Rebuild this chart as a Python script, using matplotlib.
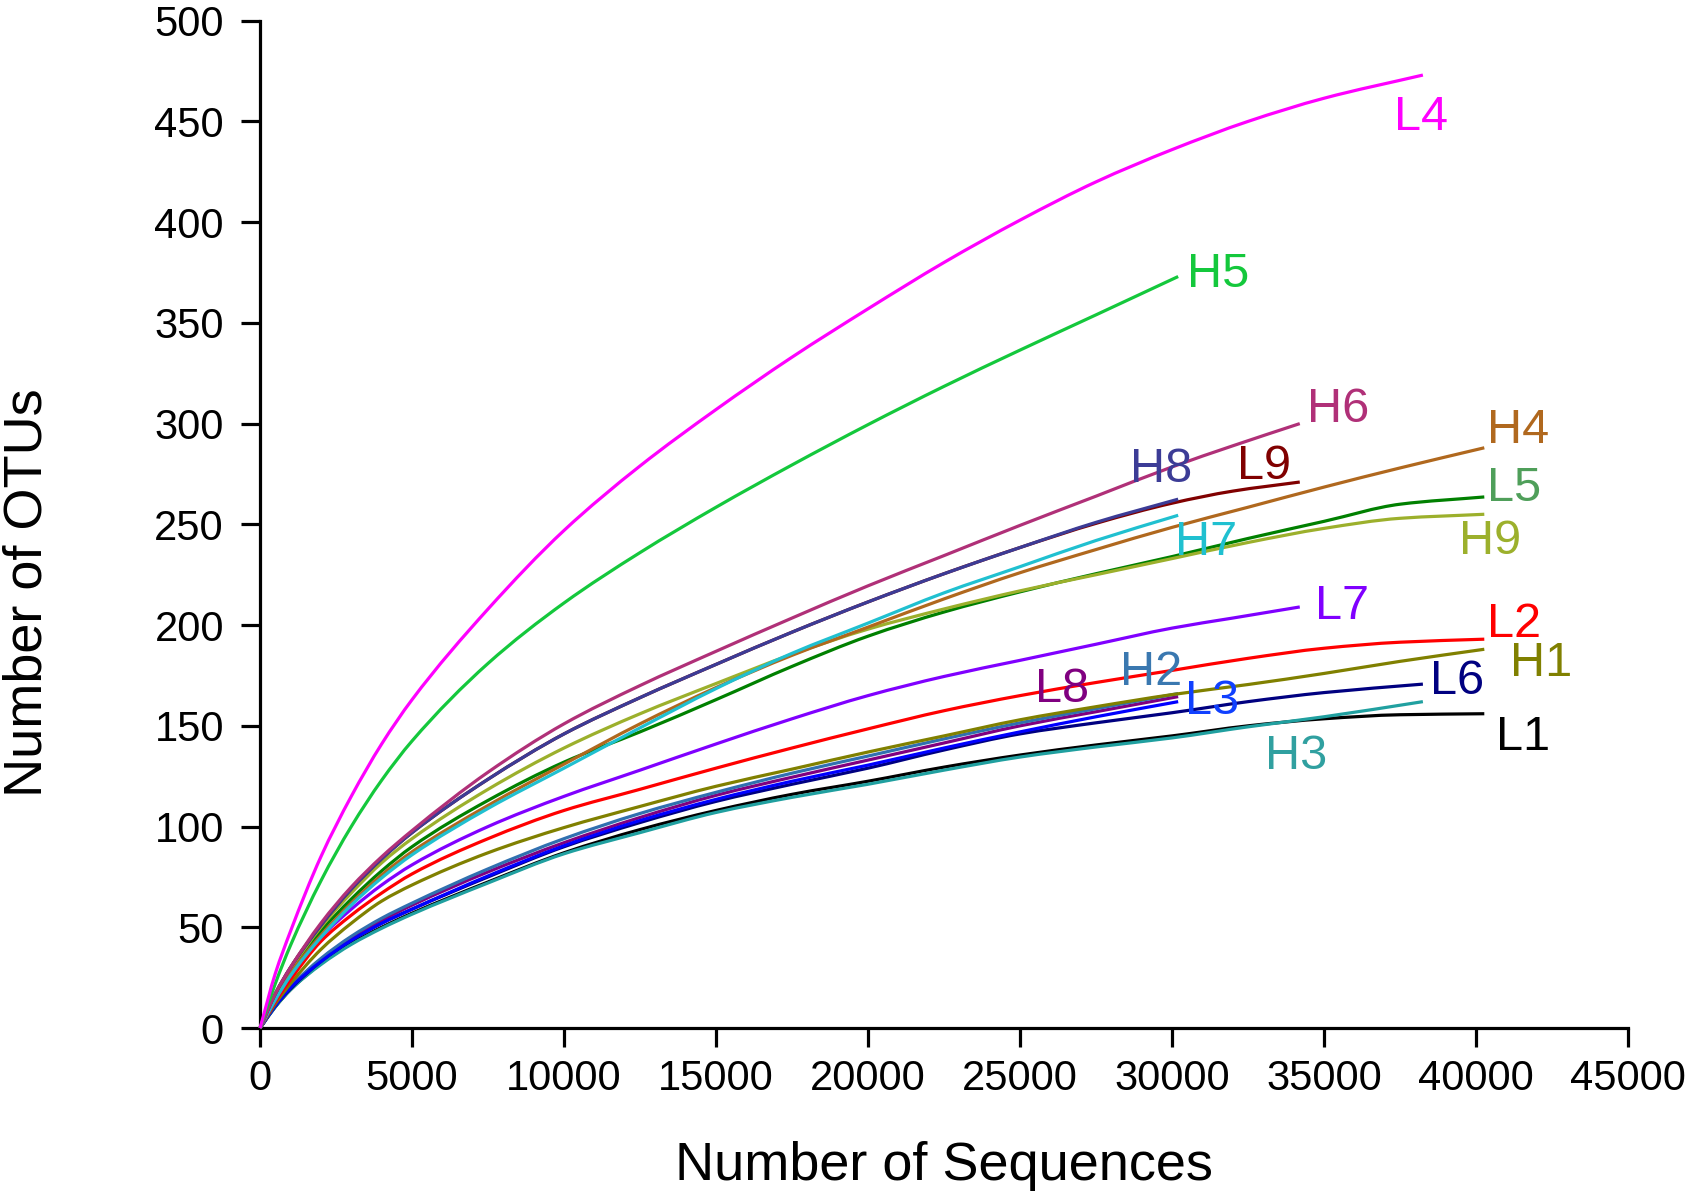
"""
Rarefaction curves: Number of OTUs vs Number of Sequences for L1-L9, H1-H9.
Output: out.png
"""

import matplotlib
matplotlib.use("Agg")
import matplotlib.pyplot as plt
import numpy as np
from matplotlib.patches import PathPatch
from matplotlib.path import Path

plt.rcParams["font.family"] = ["Liberation Sans", "DejaVu Sans"]

# x positions shared by every curve up to 27500 sequences
GRID_X = [0, 500, 1000, 2000, 3000, 4000, 5000, 7500, 10000,
          12500, 15000, 17500, 20000, 22500, 25000, 27500]

# tail x positions, one per curve end group
TAIL_30 = [30200]
TAIL_34 = [30000, 32000, 34200]
TAIL_38 = [30000, 32500, 35000, 38250]
TAIL_40 = [30000, 32500, 35000, 37500, 40270]

# OTU counts (GRID_X values followed by tail values)
L4 = [0, 27, 48, 85, 115, 141, 163, 208, 247, 279, 307, 333, 357, 380, 401, 420,
      436, 450, 461.5, 473]
H5 = [0, 22, 41, 73, 100, 123, 142.5, 181, 211, 236, 258.5, 279.5, 299.5, 318.5,
      336.5, 354, 373]
H6 = [0, 17, 30, 52, 70, 85, 98, 127, 151, 170, 187, 203.5, 219.5, 234.5, 249.5, 264,
      278.5, 289, 300]
H8 = [0, 17, 30, 51, 69, 84, 97, 123.5, 146, 164, 180.5, 196.5, 211.5, 225.5, 238.5,
      251, 262.5]
L9 = [0, 17, 30, 51, 69, 84, 97, 123.5, 146, 164, 180.5, 196.5, 211.5, 225.5, 238.5,
      250.5, 260.5, 266.5, 271]
H4 = [0, 15, 27, 46, 62, 76, 87.5, 110.5, 131, 151, 169, 185, 199, 213, 226, 237.5,
      248.5, 258.5, 268.5, 278, 288]
H7 = [0, 14, 26, 45, 61, 74.5, 86, 109, 129, 149, 168.5, 186, 201, 216, 229, 242,
      254.5]
L5 = [0, 15.5, 28, 48, 64, 78, 90, 113, 132, 147, 163, 179.5, 194.5, 206.5, 216.5,
      225.5, 234, 243, 251.5, 260, 263.6]
H9 = [0, 16, 29, 50, 67, 82, 94, 118.5, 139, 156, 171, 185.5, 198, 208, 217, 225,
      233, 241, 248, 253, 255]
L7 = [0, 14, 26, 45, 59, 71, 81, 100, 115, 128, 141, 153.5, 165, 174.5, 182.5, 190.5,
      198.5, 203.5, 209]
L2 = [0, 13, 24, 43, 56, 67, 76.5, 94, 108, 118.5, 129, 139, 148.5, 157.5, 165, 171.5,
      177.5, 183.5, 188.5, 191.5, 193]
H1 = [0, 12, 22, 39, 52, 63, 71, 87, 99.5, 110, 120, 128.5, 137, 145, 153, 159.5,
      165.5, 170.5, 176, 182, 188]
H2 = [0, 11.5, 20.5, 34.5, 45.5, 54.5, 62, 79, 94, 106.5, 117, 126.5, 135, 143.5,
      151.5, 158.5, 166]
L8 = [0, 11.5, 20.5, 34, 45, 53.5, 61, 77.5, 92, 104.5, 115.5, 124.5, 133, 141.5, 150,
      157, 164.5]
L3 = [0, 11, 20, 33, 43.5, 52, 59, 75.5, 90.5, 103, 113.5, 122.5, 130.5, 139, 147,
      154.5, 162]
L6 = [0, 11, 19.5, 33, 43.5, 52, 59, 75, 90, 102, 112.5, 121, 129, 138, 146,
      151.5, 156.5, 162, 166.5, 170.7]
L1 = [0, 10.5, 19, 32, 42, 50, 57, 72.5, 87, 98.5, 108, 116, 122.5, 129.5, 135.5,
      140.5, 145, 150, 153.5, 155.5, 156]
H3 = [0, 10.5, 19, 31.5, 41.5, 49.5, 56.5, 72, 86.5, 97, 107, 114.5, 121, 128, 134.5,
      139.5, 144, 149.5, 154.5, 162]

# drawing order (last on top), tail group, colours
NAMES = ["L1", "H3", "L6", "L8", "H2", "L3", "H1", "L2", "L7",
         "L5", "H9", "H4", "H7", "L9", "H8", "H6", "H5", "L4"]
SERIES = [L1, H3, L6, L8, H2, L3, H1, L2, L7, L5, H9, H4, H7, L9, H8, H6, H5, L4]
TAILS = [TAIL_40, TAIL_38, TAIL_38, TAIL_30, TAIL_30, TAIL_30, TAIL_40, TAIL_40,
         TAIL_34, TAIL_40, TAIL_40, TAIL_40, TAIL_30, TAIL_34, TAIL_30, TAIL_34,
         TAIL_30, TAIL_38]
LINE_COLORS = ["#000000", "#20a0a0", "#000080", "#800080", "#3070b0", "#0000ff",
               "#808000", "#ff0000", "#8000ff", "#008000", "#9cb02c", "#b0681e",
               "#20c0d0", "#800000", "#3c3c96", "#b03078", "#14c83c", "#ff00ff"]
LABEL_COLORS = ["#000000", "#30a0a0", "#000080", "#800080", "#3a78b0", "#1040ff",
                "#808000", "#ff0000", "#8000ff", "#4f9f5a", "#9cb02c", "#b0681e",
                "#20c0d0", "#800000", "#3c3c96", "#b03078", "#14c83c", "#ff00ff"]

# label anchor (left edge, vertical centre) in data units
LABEL_X = [40650, 33050, 38500, 25500, 28300, 30420, 41100, 40350, 34700,
           40350, 39450, 40350, 30080, 32150, 28600, 34450, 30500, 37300]
LABEL_Y = [144, 135, 172, 168, 176.5, 162, 181, 200.5, 209,
           268, 241.5, 296.5, 241, 278.5, 277, 307, 374, 452]

X_TICKS = list(range(0, 45001, 5000))
Y_TICKS = list(range(0, 501, 50))


def smooth_path(xs, ys):
    """Monotone cubic Bezier path through the read points."""
    x = np.asarray(xs, float)
    y = np.asarray(ys, float)
    h = np.diff(x)
    d = np.diff(y) / h
    m = np.empty_like(y)
    m[0], m[-1] = d[0], d[-1]
    for k in range(1, len(x) - 1):
        if d[k - 1] * d[k] <= 0:
            m[k] = 0.0
        else:
            w1 = 2 * h[k] + h[k - 1]
            w2 = h[k] + 2 * h[k - 1]
            m[k] = (w1 + w2) / (w1 / d[k - 1] + w2 / d[k])
    verts = [(x[0], y[0])]
    codes = [Path.MOVETO]
    for k in range(len(h)):
        verts += [(x[k] + h[k] / 3, y[k] + m[k] * h[k] / 3),
                  (x[k + 1] - h[k] / 3, y[k + 1] - m[k + 1] * h[k] / 3),
                  (x[k + 1], y[k + 1])]
        codes += [Path.CURVE4] * 3
    return Path(verts, codes)


def main():
    fig = plt.figure(figsize=(16.91, 11.94), dpi=100)
    ax = fig.add_axes([0.1538, 0.1390, 0.8090, 0.8437])

    for name, ys, tail, lc, tc, lx, ly in zip(NAMES, SERIES, TAILS, LINE_COLORS,
                                              LABEL_COLORS, LABEL_X, LABEL_Y):
        xs = GRID_X + tail
        patch = PathPatch(smooth_path(xs, ys), facecolor="none", edgecolor=lc,
                          linewidth=2.3, capstyle="butt", clip_on=False, zorder=3)
        ax.add_patch(patch)
        ax.text(lx, ly, name, color=tc, fontsize=35, ha="left", va="center",
                zorder=4)

    ax.set_xlim(0, 45000)
    ax.set_ylim(0, 500)
    ax.set_xticks(X_TICKS)
    ax.set_yticks(Y_TICKS)
    ax.spines[["top", "right"]].set_visible(False)
    for side in ("left", "bottom"):
        ax.spines[side].set_linewidth(2.3)
    ax.tick_params(axis="both", direction="out", length=14, width=2.3,
                   labelsize=30)
    ax.tick_params(axis="y", pad=12)
    ax.tick_params(axis="x", pad=8)

    ax.set_xlabel("Number of Sequences", fontsize=39)
    ax.set_ylabel("Number of OTUs", fontsize=39)
    ax.xaxis.set_label_coords(0.5, -0.112)
    ax.yaxis.set_label_coords(-0.152, 0.432)

    fig.savefig("out.png", dpi=100)


if __name__ == "__main__":
    main()
